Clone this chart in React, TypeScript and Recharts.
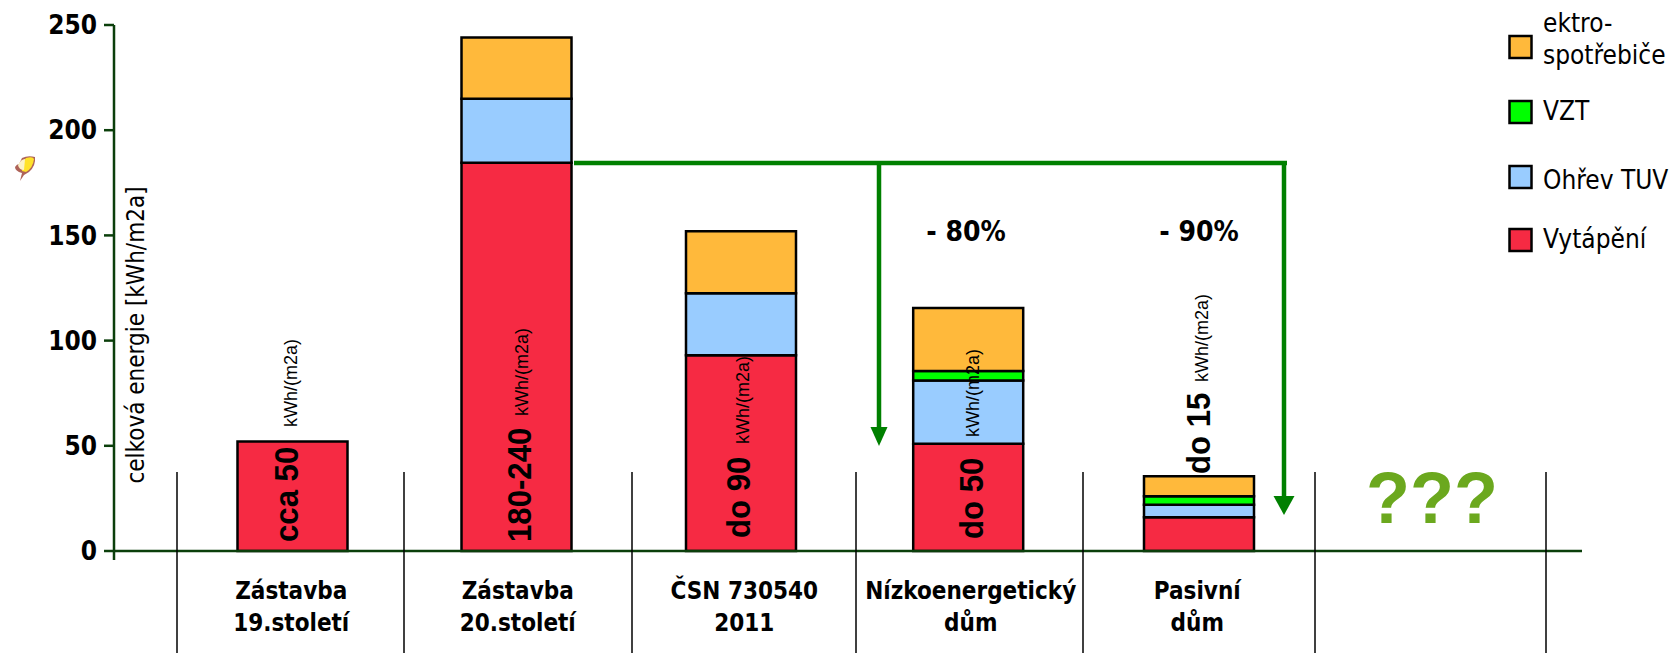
import React from "react";
import { BarChart, Bar, XAxis, YAxis, Rectangle } from "recharts";

const categories = [
  ["Zástavba", "19.století"],
  ["Zástavba", "20.století"],
  ["ČSN 730540", "2011"],
  ["Nízkoenergetický", "dům"],
  ["Pasivní", "dům"],
  ["", ""],
];
const vytapeni = [52, 184.5, 93, 51, 16, null];
const ohrevTuv = [null, 30.5, 29.5, 30, 6, null];
const vzt = [null, null, null, 4.5, 4, null];
const spotrebice = [null, 29, 29.5, 30, 9.5, null];
const yTicks = [0, 50, 100, 150, 200, 250];
const separators = [177, 404, 632, 856, 1083, 1315, 1546];
// The columns are not quite evenly spaced across their bands
const columnShift = [2.5, 0, -2, -1.3, 3, 0];

const legendItems = [
  { lines: ["ektro-", "spotřebiče"], color: "#FFB93B" },
  { lines: ["VZT"], color: "#00FF00" },
  { lines: ["Ohřev TUV"], color: "#99CCFF" },
  { lines: ["Vytápění"], color: "#F62A43" },
];

const rows = categories.map((c, i) => ({
  key: c.join(" ") + i,
  lines: c,
  vytapeni: vytapeni[i],
  ohrevTuv: ohrevTuv[i],
  vzt: vzt[i],
  spotrebice: spotrebice[i],
}));

const COND = "'DejaVu Sans Condensed', 'DejaVu Sans', sans-serif";
const ARIAL = "'Liberation Sans', Arial, sans-serif";
const AXIS = "#0B3F0B";
const ARROW = "#008000";

// Two-line category caption under each column
function CategoryTick({ x, index }: any) {
  const lines = categories[index] || ["", ""];
  return (
    <g>
      {lines.map((t: string, i: number) => (
        <text key={i} x={x + 1} y={599 + i * 32} textAnchor="middle" fontFamily={COND} fontWeight="bold" fontSize={24} fill="#000">
          {t}
        </text>
      ))}
    </g>
  );
}

function LegendBox() {
  const slots = [{ y: 35, t: [32, 64] }, { y: 100, t: [120] }, { y: 165, t: [189] }, { y: 228, t: [248] }];
  return (
    <svg width={180} height={270} style={{ position: "absolute", left: 1491, top: 0, overflow: "visible" }}>
      {legendItems.map((it, i) => (
        <g key={i}>
          <rect x={18.5} y={slots[i].y + 1} width={22} height={22} fill={it.color} stroke="#000" strokeWidth={2.5} />
          {it.lines.map((l, j) => (
            <text key={j} x={52} y={slots[i].t[j]} fontFamily={COND} fontSize={26} fill="#000">{l}</text>
          ))}
        </g>
      ))}
    </svg>
  );
}

function BoldRotated({ x, y, children }: any) {
  return (
    <text transform={`translate(${x} ${y}) rotate(-90) scale(0.93 1)`} fontFamily={ARIAL} fontWeight="bold" fontSize={33.5} fill="#000">
      {children}
    </text>
  );
}

function UnitRotated({ x, y }: any) {
  return (
    <text transform={`translate(${x} ${y}) rotate(-90)`} fontFamily={ARIAL} fontSize={18} fill="#000">
      kWh/(m2a)
    </text>
  );
}

function Arrow({ x, y1, y2, w }: any) {
  return (
    <g>
      <line x1={x} x2={x} y1={y1} y2={y2} stroke={ARROW} strokeWidth={4.5} />
      <polygon points={`${x - w},${y2 - 1} ${x + w},${y2 - 1} ${x},${y2 + 18}`} fill={ARROW} />
    </g>
  );
}

// Pointer-free layer for annotations drawn over the columns
function Annotations() {
  return (
    <svg width={1671} height={653} style={{ position: "absolute", left: 0, top: 0, pointerEvents: "none" }}>
      <g transform="translate(14 155)">
        <path d="M6 26 L8 18 Q1 16 1 12 Q3 9 5 9 L8 3 Q14 0 21 2 Q22 11 15 17 L10 20 Z" fill="#A0483C" opacity={0.85} />
        <path d="M8 16 Q8 6 12 3 Q19 1 20 4 Q19 13 12 17 Z" fill="#FFE22A" />
        <path d="M4 10 Q7 4 11 4 L10 15 Q5 15 4 10 Z" fill="#FBF3C8" />
      </g>
      {separators.map((x) => (
        <line key={x} x1={x} x2={x} y1={472} y2={653} stroke="#000" strokeWidth={1.5} />
      ))}
      <line x1={574} x2={1287} y1={163} y2={163} stroke={ARROW} strokeWidth={4.5} />
      <Arrow x={879} y1={163} y2={428} w={8.5} />
      <Arrow x={1284} y1={163} y2={497} w={10.5} />
      <BoldRotated x={298} y={542}>cca 50</BoldRotated>
      <UnitRotated x={297} y={427} />
      <BoldRotated x={531} y={542}>180-240</BoldRotated>
      <UnitRotated x={528} y={416} />
      <BoldRotated x={750} y={538}>do 90</BoldRotated>
      <UnitRotated x={749} y={444} />
      <BoldRotated x={983} y={539}>do 50</BoldRotated>
      <UnitRotated x={979} y={437} />
      <BoldRotated x={1210} y={474}>do 15</BoldRotated>
      <UnitRotated x={1208} y={382} />
      <text x={966} y={241} textAnchor="middle" fontFamily={COND} fontWeight="bold" fontSize={28}>- 80%</text>
      <text x={1199} y={241} textAnchor="middle" fontFamily={COND} fontWeight="bold" fontSize={28}>- 90%</text>
      <text x={1432} y={523} textAnchor="middle" fontFamily={ARIAL} fontWeight="bold" fontSize={72} fill="#6BA81E">???</text>
      <line x1={114} x2={114} y1={551} y2={560} stroke={AXIS} strokeWidth={2.5} />
    </svg>
  );
}

function ColumnSegment(props: any) {
  return <Rectangle {...props} x={props.x + columnShift[props.index]} />;
}

const barStyle = { stroke: "#000", strokeWidth: 2.5, barSize: 110, isAnimationActive: false, stackId: "a", shape: ColumnSegment };

export default function App() {
  return (
    <div style={{ position: "absolute", left: 0, top: 0, width: 1671, height: 653, background: "#fff" }}>
      <BarChart width={1671} height={653} data={rows} margin={{ top: 25, right: 89, bottom: 0, left: 0 }} barCategoryGap={0}>
        <XAxis
          dataKey="key"
          height={102}
          padding={{ left: 63, right: 46 }}
          tick={<CategoryTick />}
          interval={0}
          tickLine={false}
          axisLine={{ stroke: AXIS, strokeWidth: 2.5 }}
        />
        <YAxis
          width={114}
          domain={[0, 250]}
          ticks={yTicks}
          tickSize={10}
          tickMargin={7}
          tick={{ fontFamily: COND, fontWeight: "bold", fontSize: 26, fill: "#000" }}
          tickLine={{ stroke: AXIS, strokeWidth: 2.5 }}
          axisLine={{ stroke: AXIS, strokeWidth: 2.5 }}
          label={{
            value: "celková energie [kWh/m2a]",
            angle: -90,
            position: "right",
            offset: 21,
            dy: 47,
            style: { fontFamily: COND, fontSize: 24, fill: "#000", textAnchor: "middle" },
          }}
        />
        <Bar dataKey="vytapeni" name="Vytápění" fill="#F62A43" {...barStyle} />
        <Bar dataKey="ohrevTuv" name="Ohřev TUV" fill="#99CCFF" {...barStyle} />
        <Bar dataKey="vzt" name="VZT" fill="#00FF00" {...barStyle} />
        <Bar dataKey="spotrebice" name="ektro-spotřebiče" fill="#FFB93B" {...barStyle} />
      </BarChart>
      <Annotations />
      <LegendBox />
    </div>
  );
}
